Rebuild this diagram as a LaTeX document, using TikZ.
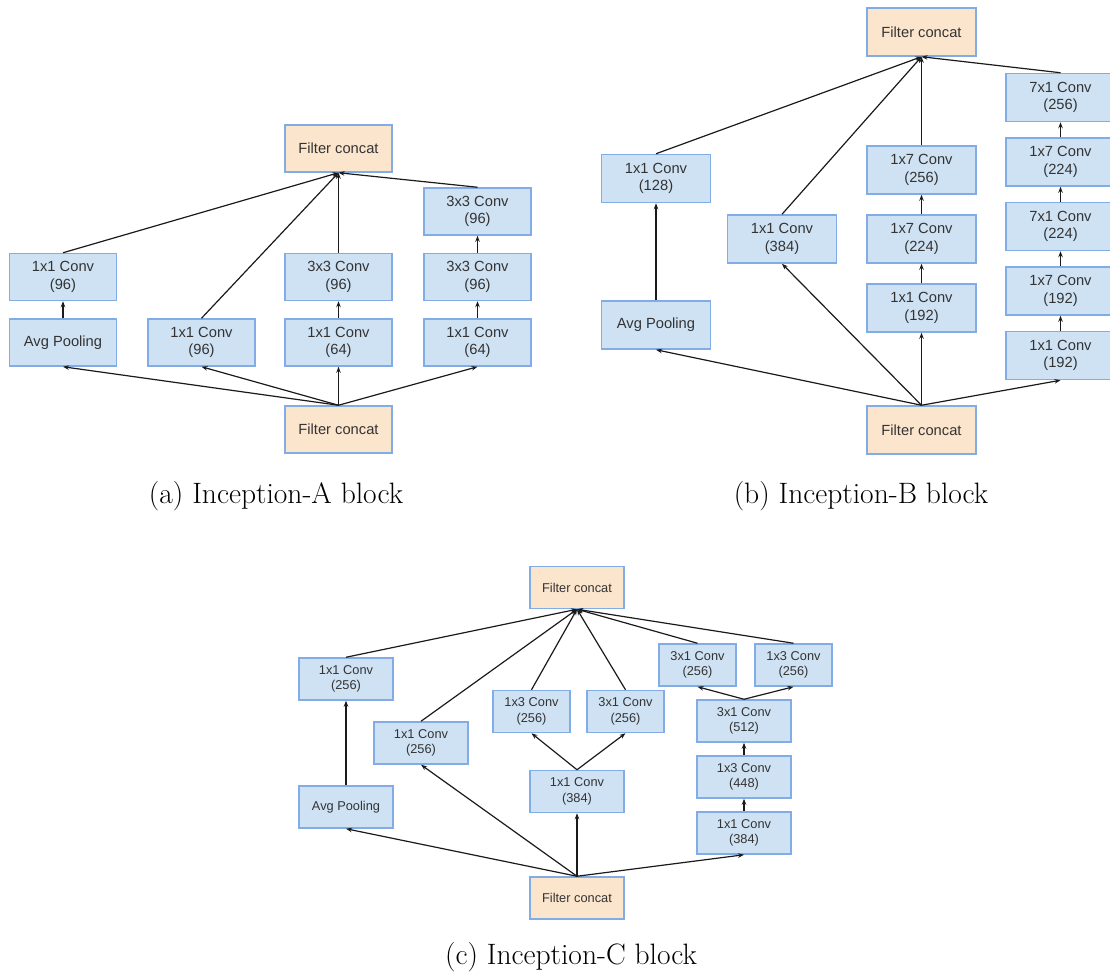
\documentclass[tikz,border=0pt]{standalone}
\usepackage{fontspec}
\newfontfamily\boxfont{Liberation Sans}
\usetikzlibrary{arrows.meta}

\definecolor{convfill}{HTML}{CFE2F3}
\definecolor{catfill}{HTML}{FCE5CD}
\definecolor{boxline}{HTML}{82ACE6}
\definecolor{boxtext}{HTML}{333333}
\definecolor{wire}{HTML}{1A1A1A}

\tikzset{
  layer/.style={draw=boxline, line width=1.5pt, fill=convfill, inner sep=0pt,
    align=center, text=boxtext, font=\boxfont\fontsize{14.7}{17.6}\selectfont},
  concat/.style={layer, fill=catfill},
  bigA/.style={minimum width=107pt, minimum height=47pt},
  bigB/.style={minimum width=109pt, minimum height=48pt},
  smallC/.style={font=\boxfont\fontsize{12.8}{15.4}\selectfont,
    minimum width=94pt, minimum height=42pt},
  narrowC/.style={smallC, minimum width=77pt},
  flow/.style={draw=wire, line width=1.2pt, -{Stealth[length=6pt,width=4.5pt]}},
  caption/.style={font=\fontsize{29.5}{35}\selectfont, anchor=base, inner sep=0pt}
}

\begin{document}
\begin{tikzpicture}[x=1pt, y=-1pt]
\useasboundingbox (0,0) rectangle (1110,974);
\clip (0,0) rectangle (1110,974);

% ---------------- Inception-A ----------------
\node[concat, bigA] (aTop) at (338.5,148.5) {Filter concat};
\node[layer, bigA]  (aP1)  at (63,277)      {1x1 Conv\\(96)};
\node[layer, bigA]  (aPool) at (63,342.5)   {Avg Pooling};
\node[layer, bigA]  (aB)   at (201.5,342.5) {1x1 Conv\\(96)};
\node[layer, bigA]  (aC2)  at (338.5,277)   {3x3 Conv\\(96)};
\node[layer, bigA]  (aC1)  at (338.5,342.5) {1x1 Conv\\(64)};
\node[layer, bigA]  (aD3)  at (477.5,211.5) {3x3 Conv\\(96)};
\node[layer, bigA]  (aD2)  at (477.5,277)   {3x3 Conv\\(96)};
\node[layer, bigA]  (aD1)  at (477.5,342.5) {1x1 Conv\\(64)};
\node[concat, bigA] (aBot) at (338.5,429.5) {Filter concat};

\draw[flow] (aP1.north) -- (aTop.south);
\draw[flow] (aB.north)  -- (aTop.south);
\draw[flow] (aC2.north) -- (aTop.south);
\draw[flow] (aD3.north) -- (aTop.south);
\draw[flow] (aPool.north) -- (aP1.south);
\draw[flow] (aC1.north) -- (aC2.south);
\draw[flow] (aD1.north) -- (aD2.south);
\draw[flow] (aD2.north) -- (aD3.south);
\draw[flow] (aBot.north) -- (aPool.south);
\draw[flow] (aBot.north) -- (aB.south);
\draw[flow] (aBot.north) -- (aC1.south);
\draw[flow] (aBot.north) -- (aD1.south);

\node[caption] (capA) at (276,503) {(a) Inception-A block};

% ---------------- Inception-B ----------------
\node[concat, bigB] (bTop) at (921.5,32)    {Filter concat};
\node[layer, bigB]  (bP1)  at (656,178.5)   {1x1 Conv\\(128)};
\node[layer, bigB]  (bPool) at (656,325)    {Avg Pooling};
\node[layer, bigB]  (bB)   at (782,239)     {1x1 Conv\\(384)};
\node[layer, bigB]  (bC3)  at (921.5,170)   {1x7 Conv\\(256)};
\node[layer, bigB]  (bC2)  at (921.5,239)   {1x7 Conv\\(224)};
\node[layer, bigB]  (bC1)  at (921.5,308)   {1x1 Conv\\(192)};
\node[layer, bigB]  (bD5)  at (1060.5,97.5) {7x1 Conv\\(256)};
\node[layer, bigB]  (bD4)  at (1060.5,162)  {1x7 Conv\\(224)};
\node[layer, bigB]  (bD3)  at (1060.5,226.5){7x1 Conv\\(224)};
\node[layer, bigB]  (bD2)  at (1060.5,291)  {1x7 Conv\\(192)};
\node[layer, bigB]  (bD1)  at (1060.5,355.5){1x1 Conv\\(192)};
\node[concat, bigB] (bBot) at (921.5,430)   {Filter concat};

\draw[flow] (bP1.north) -- (bTop.south);
\draw[flow] (bB.north)  -- (bTop.south);
\draw[flow] (bC3.north) -- (bTop.south);
\draw[flow] (bD5.north) -- (bTop.south);
\draw[flow] (bPool.north) -- (bP1.south);
\draw[flow] (bC1.north) -- (bC2.south);
\draw[flow] (bC2.north) -- (bC3.south);
\draw[flow] (bD1.north) -- (bD2.south);
\draw[flow] (bD2.north) -- (bD3.south);
\draw[flow] (bD3.north) -- (bD4.south);
\draw[flow] (bD4.north) -- (bD5.south);
\draw[flow] (bBot.north) -- (bPool.south);
\draw[flow] (bBot.north) -- (bB.south);
\draw[flow] (bBot.north) -- (bC1.south);
\draw[flow] (bBot.north) -- (bD1.south);

\node[caption] (capB) at (861,503) {(b) Inception-B block};

% ---------------- Inception-C ----------------
\node[concat, smallC] (cTop) at (577,587.5)   {Filter concat};
\node[layer, smallC]  (cP1)  at (346,679)     {1x1 Conv\\(256)};
\node[layer, smallC]  (cPool) at (346,807)    {Avg Pooling};
\node[layer, smallC]  (cB)   at (421,743)     {1x1 Conv\\(256)};
\node[layer, narrowC] (cC2a) at (531.5,711.5) {1x3 Conv\\(256)};
\node[layer, narrowC] (cC2b) at (625.5,711.5) {3x1 Conv\\(256)};
\node[layer, smallC]  (cC1)  at (577,791.5)   {1x1 Conv\\(384)};
\node[layer, narrowC] (cD4a) at (697.5,665)   {3x1 Conv\\(256)};
\node[layer, narrowC] (cD4b) at (793.5,665)   {1x3 Conv\\(256)};
\node[layer, smallC]  (cD3)  at (744,721)     {3x1 Conv\\(512)};
\node[layer, smallC]  (cD2)  at (744,777)     {1x3 Conv\\(448)};
\node[layer, smallC]  (cD1)  at (744,833)     {1x1 Conv\\(384)};
\node[concat, smallC] (cBot) at (577,898)     {Filter concat};

\draw[flow] (cP1.north)  -- (cTop.south);
\draw[flow] (cB.north)   -- (cTop.south);
\draw[flow] (cC2a.north) -- (cTop.south);
\draw[flow] (cC2b.north) -- (cTop.south);
\draw[flow] (cD4a.north) -- (cTop.south);
\draw[flow] (cD4b.north) -- (cTop.south);
\draw[flow] (cPool.north) -- (cP1.south);
\draw[flow] (cC1.north) -- (cC2a.south);
\draw[flow] (cC1.north) -- (cC2b.south);
\draw[flow] (cD1.north) -- (cD2.south);
\draw[flow] (cD2.north) -- (cD3.south);
\draw[flow] (cD3.north) -- (cD4a.south);
\draw[flow] (cD3.north) -- (cD4b.south);
\draw[flow] (cBot.north) -- (cPool.south);
\draw[flow] (cBot.north) -- (cB.south);
\draw[flow] (cBot.north) -- (cC1.south);
\draw[flow] (cBot.north) -- (cD1.south);

\node[caption] (capC) at (571,964) {(c) Inception-C block};
\end{tikzpicture}
\end{document}
